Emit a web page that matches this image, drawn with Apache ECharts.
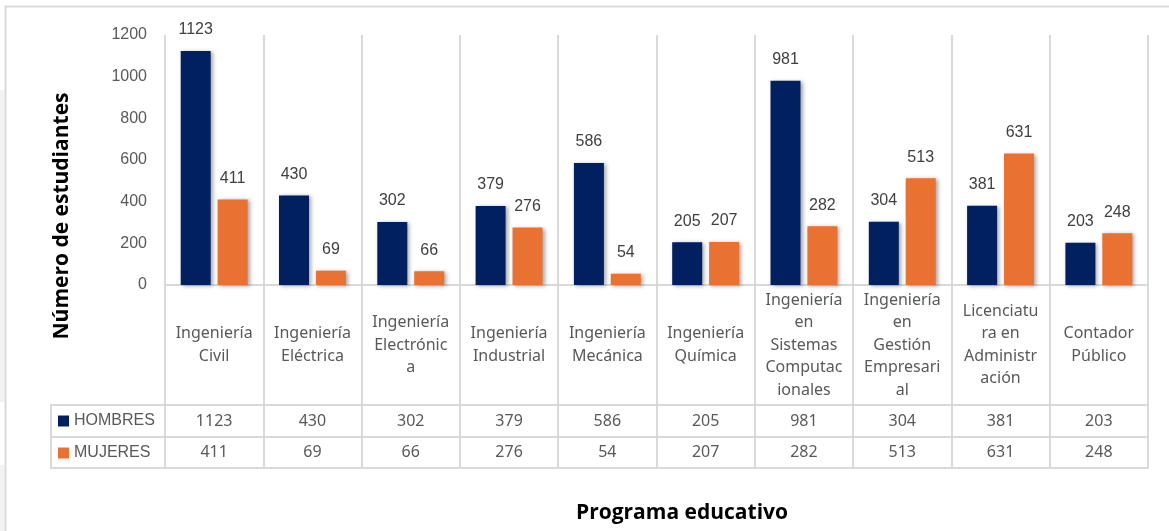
<!DOCTYPE html>
<html><head><meta charset="utf-8">
<script src="https://cdn.jsdelivr.net/npm/echarts@6/dist/echarts.min.js"></script>
<style>html,body{margin:0;padding:0;background:#fff}#c{width:1169px;height:531px}</style>
</head><body><div id="c"></div>
<script>
const categories = ["Ingeniería Civil","Ingeniería Eléctrica","Ingeniería Electrónica","Ingeniería Industrial","Ingeniería Mecánica","Ingeniería Química","Ingeniería en Sistemas Computacionales","Ingeniería en Gestión Empresarial","Licenciatura en Administración","Contador Público"];
const categoryLabels = ["Ingeniería\nCivil","Ingeniería\nEléctrica","Ingeniería\nElectrónic\na","Ingeniería\nIndustrial","Ingeniería\nMecánica","Ingeniería\nQuímica","Ingeniería\nen\nSistemas\nComputac\nionales","Ingeniería\nen\nGestión\nEmpresari\nal","Licenciatu\nra en\nAdministr\nación","Contador\nPúblico"];
const seriesNames = ["HOMBRES","MUJERES"];
const hombres = [1123,430,302,379,586,205,981,304,381,203];
const mujeres = [411,69,66,276,54,207,282,513,631,248];
const yMin = 0, yMax = 1200, yInterval = 200;
const yTitle = "Número de estudiantes";
const xTitle = "Programa educativo";

const GRID = '#d9d9d9';
const navy = '#002060', orange = '#E97132';
const tableFont = {fontFamily:'Noto Sans', fontSize:16, color:'#595959'};

const chart = echarts.init(document.getElementById('c'), null, {renderer:'canvas'});
const barShadow = {shadowBlur:4, shadowColor:'rgba(0,0,0,0.35)', shadowOffsetX:2, shadowOffsetY:1};
const labelStyle = {show:true, position:'top', distance:13, fontFamily:'Liberation Sans', fontSize:16, color:'#404040'};
const titleFont = 'bold 21px "Open Sans"';

chart.setOption({
  animation:false,
  backgroundColor:'#fff',
  grid:{left:165, right:21, top:35, bottom:246, containLabel:false, outerBoundsMode:'none'},
  legend:{
    orient:'vertical', left:58, top:411, padding:0, itemWidth:11, itemHeight:11, itemGap:12,
    icon:'rect', data:seriesNames,
    itemStyle:{shadowBlur:0, shadowColor:'transparent', shadowOffsetX:0, shadowOffsetY:0},
    textStyle:{fontFamily:'Liberation Sans', fontSize:16, color:'#595959', lineHeight:20}
  },
  xAxis:[
    {type:'category', gridIndex:0, position:'bottom', data:categories,
     axisLine:{show:true, lineStyle:{color:GRID, width:2}},
     axisTick:{show:true, interval:0, length:183, lineStyle:{color:GRID, width:2}},
     splitLine:{show:true, interval:0, lineStyle:{color:GRID, width:2}},
     axisLabel:{interval:0, margin:60, verticalAlign:'middle', lineHeight:22.5, ...tableFont,
       formatter:(v,i)=>categoryLabels[i]}},
    {type:'category', gridIndex:0, position:'bottom', offset:120, data:categories,
     axisLine:{show:true, lineStyle:{color:GRID, width:2}}, axisTick:{show:false},
     axisLabel:{interval:0, margin:16, verticalAlign:'middle', ...tableFont, formatter:(v,i)=>String(hombres[i])}},
    {type:'category', gridIndex:0, position:'bottom', offset:152, data:categories,
     axisLine:{show:true, lineStyle:{color:GRID, width:2}}, axisTick:{show:false},
     axisLabel:{interval:0, margin:15.5, verticalAlign:'middle', ...tableFont, formatter:(v,i)=>String(mujeres[i])}},
    {type:'category', gridIndex:0, position:'bottom', offset:183, data:categories,
     axisLine:{show:true, lineStyle:{color:GRID, width:2}}, axisTick:{show:false},
     axisLabel:{show:false}}
  ],
  yAxis:{type:'value', min:yMin, max:yMax, interval:yInterval,
    axisLine:{show:false}, axisTick:{show:false}, splitLine:{show:false},
    axisLabel:{margin:18, fontFamily:'Liberation Sans', fontSize:16, color:'#595959', formatter:v=>String(v)}},
  series:[
    {name:seriesNames[0], type:'bar', xAxisIndex:0, data:hombres, barWidth:30, barGap:'23%',
     itemStyle:{color:navy, ...barShadow}, label:labelStyle},
    {name:seriesNames[1], type:'bar', xAxisIndex:0, data:mujeres, barWidth:30, barGap:'23%',
     itemStyle:{color:orange, ...barShadow}, label:labelStyle}
  ],
  graphic:[
    {type:'rect', silent:true, shape:{x:0, y:90, width:4, height:312}, style:{fill:'#f2f2f2'}},
    {type:'rect', silent:true, shape:{x:0, y:465, width:4, height:66}, style:{fill:'#f2f2f2'}},
    {type:'polyline', silent:true, shape:{points:[[5.5,531],[5.5,6.5],[1169,6.5]]}, style:{stroke:GRID, lineWidth:2, fill:null}},
    {type:'polyline', silent:true, shape:{points:[[165,405],[51,405],[51,468],[165,468]]}, style:{stroke:GRID, lineWidth:2, fill:null}},
    {type:'line', silent:true, shape:{x1:51, y1:437, x2:165, y2:437}, style:{stroke:GRID, lineWidth:2}},
    {type:'text', silent:true, x:62, y:216, rotation:Math.PI/2,
     style:{text:yTitle, font:titleFont, fill:'#000', textAlign:'center', textVerticalAlign:'middle', align:'center', verticalAlign:'middle'}},
    {type:'text', silent:true, x:682, y:513,
     style:{text:xTitle, font:'bold 21px "Open Sans"', fill:'#000', textAlign:'center', textVerticalAlign:'middle', align:'center', verticalAlign:'middle'}}
  ]
});
</script></body></html>
